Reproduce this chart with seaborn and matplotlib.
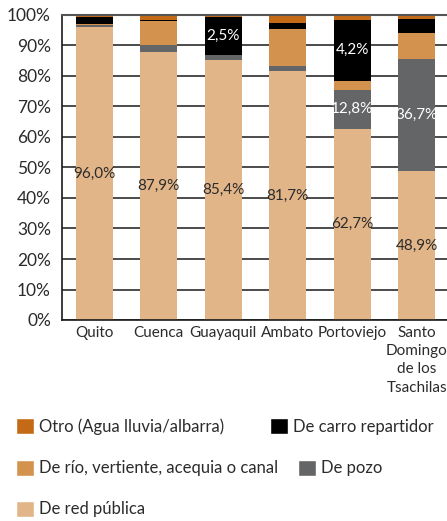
import numpy as np
import pandas as pd
import seaborn as sns
import matplotlib.pyplot as plt
from matplotlib.patches import Patch

cities = ["Quito", "Cuenca", "Guayaquil", "Ambato", "Portoviejo",
          "Santo\nDomingo\nde los\nTsachilas"]

# shares in % (bottom to top)
red_publica = [96.0, 87.9, 85.4, 81.7, 62.7, 48.9]
pozo = [0.7, 2.2, 1.4, 1.6, 12.8, 36.7]
rio = [0.4, 7.9, 0.0, 12.1, 2.9, 8.6]
carro = [2.3, 0.3, 12.7, 2.1, 20.0, 4.5]
otro = [0.6, 1.7, 0.5, 2.5, 1.6, 1.3]

# labels as printed on the chart
red_labels = ["96,0%", "87,9%", "85,4%", "81,7%", "62,7%", "48,9%"]
pozo_labels = ["", "", "", "", "12,8%", "36,7%"]
carro_labels = ["", "", "2,5%", "", "4,2%", ""]

series = [
    ("De red pública", red_publica, "#e2b589", red_labels, "#2b2b2b"),
    ("De pozo", pozo, "#646567", pozo_labels, "white"),
    ("De río, vertiente, acequia o canal", rio, "#d4924f", None, None),
    ("De carro repartidor", carro, "#000000", carro_labels, "white"),
    ("Otro (Agua lluvia/albarra)", otro, "#c46a17", None, None),
]

sns.set_style("white")
plt.rcParams["font.family"] = ["Lato", "DejaVu Sans"]

fig = plt.figure(figsize=(4.47, 5.21), dpi=100)
ax = fig.add_axes([62 / 447, 201 / 521, 387 / 447, 305 / 521])

df = pd.DataFrame({"city": cities})
cum = np.zeros(len(cities))
bottoms = {}
for name, vals, col, labs, lcol in series:
    bottoms[name] = cum.copy()
    cum = cum + np.array(vals)
    df[name] = cum

# draw cumulative bars from the tallest down so each segment shows
for name, vals, col, labs, lcol in reversed(series):
    sns.barplot(data=df, x="city", y=name, color=col, saturation=1,
                width=0.57, ax=ax, zorder=2, linewidth=0, edgecolor="none")

for name, vals, col, labs, lcol in series:
    if labs is None:
        continue
    for i, t in enumerate(labs):
        if t:
            ax.text(i, bottoms[name][i] + vals[i] / 2, t, ha="center",
                    va="center", color=lcol, fontsize=11, zorder=5)

ax.set_ylim(0, 100)
ax.set_xlim(-0.5, 5.5)
ax.set_yticks(range(0, 101, 10))
ax.set_yticklabels([f"{v}%" for v in range(0, 101, 10)])
ax.set_xlabel("")
ax.set_ylabel("")
ax.yaxis.grid(True, color="#1a1a1a", lw=1.1, zorder=0)
ax.set_axisbelow(True)

ax.set_xticks(np.arange(-0.5, 6, 1), minor=True)
ax.tick_params(axis="x", which="major", length=0, pad=4, labelsize=11,
               labelcolor="#2b2b2b")
ax.tick_params(axis="x", which="minor", length=5, width=1.2, color="#1a1a1a",
               direction="out")
ax.tick_params(axis="y", length=5, width=1.2, color="#1a1a1a", direction="out",
               labelsize=12.5, labelcolor="#2b2b2b", pad=3)
for lab in ax.get_xticklabels():
    lab.set_linespacing(1.4)

ax.spines["right"].set_visible(False)
ax.spines["top"].set_color("#555555")
ax.spines["top"].set_linewidth(1.5)
ax.spines["left"].set_color("#1a1a1a")
ax.spines["left"].set_linewidth(1.2)
ax.spines["bottom"].set_color("#1a1a1a")
ax.spines["bottom"].set_linewidth(1.2)

colors = {s[0]: s[2] for s in series}
legend_items = [
    ("Otro (Agua lluvia/albarra)", 16, 426.5),
    ("De carro repartidor", 270, 426.5),
    ("De río, vertiente, acequia o canal", 16, 468),
    ("De pozo", 298, 468),
    ("De red pública", 16, 509),
]
for name, x, y in legend_items:
    fig.legend(handles=[Patch(facecolor=colors[name], label=name)],
               loc="center left", bbox_to_anchor=(x / 447, 1 - y / 521),
               frameon=False, borderpad=0, borderaxespad=0, fontsize=12,
               handlelength=1.1, handleheight=1.1, handletextpad=0.3,
               labelcolor="#2b2b2b")

fig.savefig("out.png", dpi=100)
